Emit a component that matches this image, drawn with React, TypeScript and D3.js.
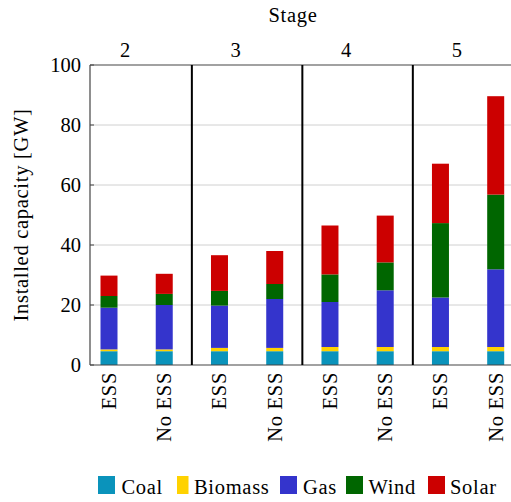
import React from "react";
import * as d3 from "d3";

// Installed capacity (GW) per stage and scenario, stacked by technology
const stages = ["2", "3", "4", "5"];
const scenarios = ["ESS", "No ESS"];
const coal = [4.6, 4.6, 4.6, 4.6, 4.6, 4.6, 4.6, 4.6];
const biomass = [0.6, 0.6, 1.1, 1.1, 1.4, 1.4, 1.4, 1.4];
const gas = [13.9, 14.8, 14.1, 16.3, 15.0, 18.9, 16.5, 25.9];
const wind = [3.9, 3.7, 4.9, 5.0, 9.2, 9.3, 24.8, 24.9];
const solar = [6.8, 6.7, 11.9, 11.0, 16.3, 15.6, 19.8, 32.8];
const yTicks = [0, 20, 40, 60, 80, 100];

const techNames = ["Coal", "Biomass", "Gas", "Wind", "Solar"];
const techColors = ["#0a93bb", "#ffd200", "#3434cc", "#006600", "#cc0000"];
const techValues = [coal, biomass, gas, wind, solar];

const W = 511;
const H = 502;
const num: React.CSSProperties = { fontFamily: "Liberation Serif, serif", fontSize: 20.5 };
const txt: React.CSSProperties = { ...num, letterSpacing: "0.7px" };

export default function App() {
  const n = coal.length;
  const x = d3.scaleLinear().domain([0, n - 1]).range([109, 495.7]);
  const y = d3.scaleLinear().domain([0, 100]).range([365, 65]);
  const left = 90;
  const right = x(n - 1) + 19;
  const barW = 17;

  const rows = d3.range(n).map((i) => {
    const r: Record<string, number> = { i };
    techNames.forEach((t, k) => (r[t] = techValues[k][i]));
    return r;
  });
  const stacked = d3.stack<Record<string, number>>().keys(techNames)(rows);

  const legendItems = [
    { sx: 98, sw: 17, tx: 121.5 },
    { sx: 177, sw: 11.5, tx: 194 },
    { sx: 280, sw: 17, tx: 303 },
    { sx: 346, sw: 17, tx: 368.5 },
    { sx: 428, sw: 17, tx: 450 },
  ];

  return (
    <svg
      width={W}
      height={H}
      style={{ position: "absolute", left: 0, top: 0, background: "#fff" }}
    >
      {/* gridlines */}
      {yTicks
        .filter((t) => t > 0 && t < 100)
        .map((t) => (
          <line key={t} x1={left} x2={right} y1={y(t)} y2={y(t)} stroke="#d0d0d0" strokeWidth={1} />
        ))}

      {/* stacked bars */}
      {stacked.map((layer, k) => (
        <g key={layer.key} fill={techColors[k]}>
          {layer.map((d, i) => (
            <rect
              key={i}
              x={x(i) - barW / 2}
              width={barW}
              y={y(d[1])}
              height={y(d[0]) - y(d[1])}
            />
          ))}
        </g>
      ))}

      {/* frame */}
      <line x1={left} x2={left} y1={y(0)} y2={y(100)} stroke="#444" strokeWidth={1.2} />
      <line x1={left} x2={right} y1={y(100)} y2={y(100)} stroke="#444" strokeWidth={1.2} />
      <line x1={left} x2={right} y1={y(0)} y2={y(0)} stroke="#444" strokeWidth={1.2} />
      <line x1={right} x2={right} y1={y(0)} y2={y(100)} stroke="#444" strokeWidth={1.2} />

      {/* stage separators */}
      {[1.5, 3.5, 5.5].map((s) => (
        <line key={s} x1={x(s)} x2={x(s)} y1={y(0)} y2={y(100)} stroke="#000" strokeWidth={2} />
      ))}

      {/* y ticks */}
      {yTicks.map((t) => (
        <g key={t}>
          <line x1={left} x2={left + 4} y1={y(t)} y2={y(t)} stroke="#444" strokeWidth={1} />
          <text x={81} y={y(t) + 7} textAnchor="end" style={num}>
            {t}
          </text>
        </g>
      ))}

      {/* y title */}
      <text transform={`translate(28,${y(50)}) rotate(-90)`} textAnchor="middle" style={txt}>
        Installed capacity [GW]
      </text>

      {/* x category labels */}
      {d3.range(n).map((i) => (
        <text
          key={i}
          transform={`translate(${x(i) + 7},${372}) rotate(-90)`}
          textAnchor="end"
          style={txt}
        >
          {scenarios[i % 2]}
        </text>
      ))}

      {/* stage labels */}
      {stages.map((s, j) => (
        <text key={s} x={125 + j * 110.6} y={57} textAnchor="middle" style={num}>
          {s}
        </text>
      ))}
      <text x={293} y={22} textAnchor="middle" style={txt}>
        Stage
      </text>

      {/* legend */}
      {techNames.map((t, k) => (
        <g key={t}>
          <rect x={legendItems[k].sx} y={476} width={legendItems[k].sw} height={18} fill={techColors[k]} />
          <text x={legendItems[k].tx} y={494} style={txt}>
            {t}
          </text>
        </g>
      ))}
    </svg>
  );
}
